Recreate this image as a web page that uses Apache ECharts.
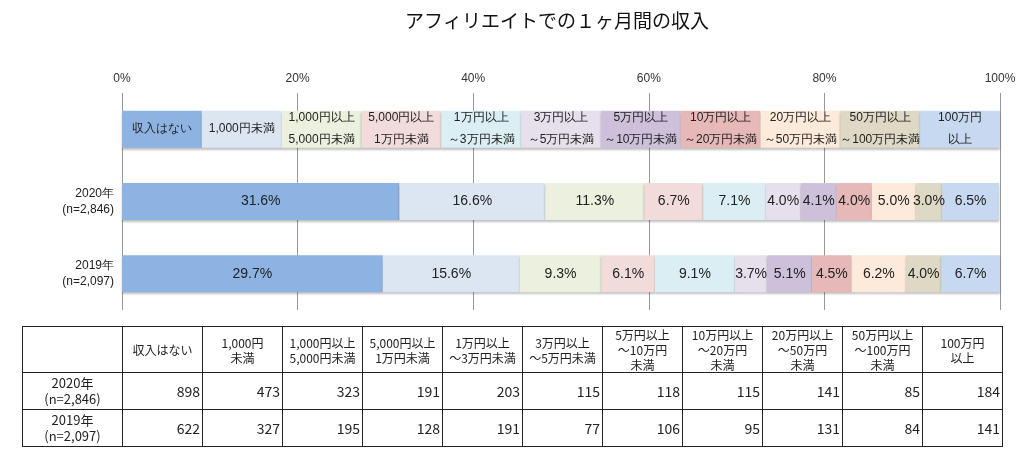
<!DOCTYPE html>
<html><head><meta charset="utf-8">
<script src="https://cdn.jsdelivr.net/npm/echarts@6/dist/echarts.min.js"></script>
<style>
body{margin:0;background:#fff;font-family:"Noto Sans CJK JP",sans-serif;}
#chart{position:absolute;left:0;top:0;width:1024px;height:330px;}
table{position:absolute;left:22px;top:326px;width:981px;table-layout:fixed;border-collapse:collapse;font-size:12px;color:#222;}
td{border:1px solid #222;padding:0 2px;box-sizing:border-box;}
td.h{text-align:center;line-height:15px;height:46px;}
td.n{text-align:right;height:37px;font-size:14px;}
td.c{text-align:center;line-height:16px;font-size:13px;}
</style></head><body>
<div id="chart"></div>
<table id="tbl"></table>
<script>
var categories = ["収入はない","1,000円未満","1,000円以上\n5,000円未満","5,000円以上\n1万円未満","1万円以上\n～3万円未満","3万円以上\n～5万円未満","5万円以上\n～10万円未満","10万円以上\n～20万円未満","20万円以上\n～50万円未満","50万円以上\n～100万円未満","100万円\n以上"];
var tableHeads = ["収入はない","1,000円\n未満","1,000円以上\n5,000円未満","5,000円以上\n1万円未満","1万円以上\n～3万円未満","3万円以上\n～5万円未満","5万円以上\n～10万円\n未満","10万円以上\n～20万円\n未満","20万円以上\n～50万円\n未満","50万円以上\n～100万円\n未満","100万円\n以上"];
var years = ["2020年\n(n=2,846)","2019年\n(n=2,097)"];
var pct2020 = [31.6,16.6,11.3,6.7,7.1,4.0,4.1,4.0,5.0,3.0,6.5];
var pct2019 = [29.7,15.6,9.3,6.1,9.1,3.7,5.1,4.5,6.2,4.0,6.7];
var cnt2020 = [898,473,323,191,203,115,118,115,141,85,184];
var cnt2019 = [622,327,195,128,191,77,106,95,131,84,141];
var colors = ["#8DB3E2","#DCE6F2","#EBF1DE","#F2DCDB","#DBEEF4","#E6E0EC","#CCC0DA","#E6B9B8","#FDEADA","#DDD9C4","#C6D9F1"];

var series = categories.map(function(name, i){
   return {
      name: name, type: "bar", stack: "all", barWidth: 37,
      data: [100/11, pct2020[i], pct2019[i]],
      itemStyle: {color: colors[i],
                  shadowColor: "rgba(0,0,0,0.25)", shadowOffsetY: 2, shadowBlur: 2},
      label: {show: true, position: "inside", color: "#222",
              fontSize: 14, lineHeight: 22,
              formatter: function(p){
                 if (p.dataIndex === 0) return "{s|" + name.replace("\n", "}\n{s|") + "}";
                 return p.value.toFixed(1) + "%";
              },
              rich: {s: {fontSize: 12, lineHeight: 22, color: "#222"}}},
      emphasis: {disabled: true}
   };
});

var chart = echarts.init(document.getElementById("chart"));
chart.setOption({
   animation: false,
   title: {text: "アフィリエイトでの１ヶ月間の収入", left: 400, top: 6,
           textStyle: {fontSize: 19, fontWeight: "normal", color: "#111", fontFamily: "Noto Sans CJK JP"}},
   grid: {left: 122, right: 24, top: 93, bottom: 20},
   xAxis: {type: "value", min: 0, max: 100, interval: 20, position: "top",
           axisLabel: {formatter: "{value}%", color: "#333", fontSize: 12, margin: 8},
           axisLine: {show: false}, axisTick: {show: false},
           splitLine: {lineStyle: {color: "#999"}}},
   yAxis: {type: "category", inverse: true, data: [""].concat(years),
           axisLine: {show: false}, axisTick: {show: false},
           axisLabel: {color: "#222", fontSize: 12, lineHeight: 16, margin: 8}},
   series: series
});

var tbl = document.getElementById("tbl");
var html = "<tr><td class='h' style='width:100px'></td>";
tableHeads.forEach(function(h){ html += "<td class='h' style='width:80px'>" + h.replace(/\n/g,"<br>") + "</td>"; });
html += "</tr>";
[[years[0], cnt2020],[years[1], cnt2019]].forEach(function(r){
   html += "<tr><td class='c'>" + r[0].replace("\n","<br>") + "</td>";
   r[1].forEach(function(v){ html += "<td class='n'>" + v + "</td>"; });
   html += "</tr>";
});
tbl.innerHTML = html;
</script>
</body></html>
